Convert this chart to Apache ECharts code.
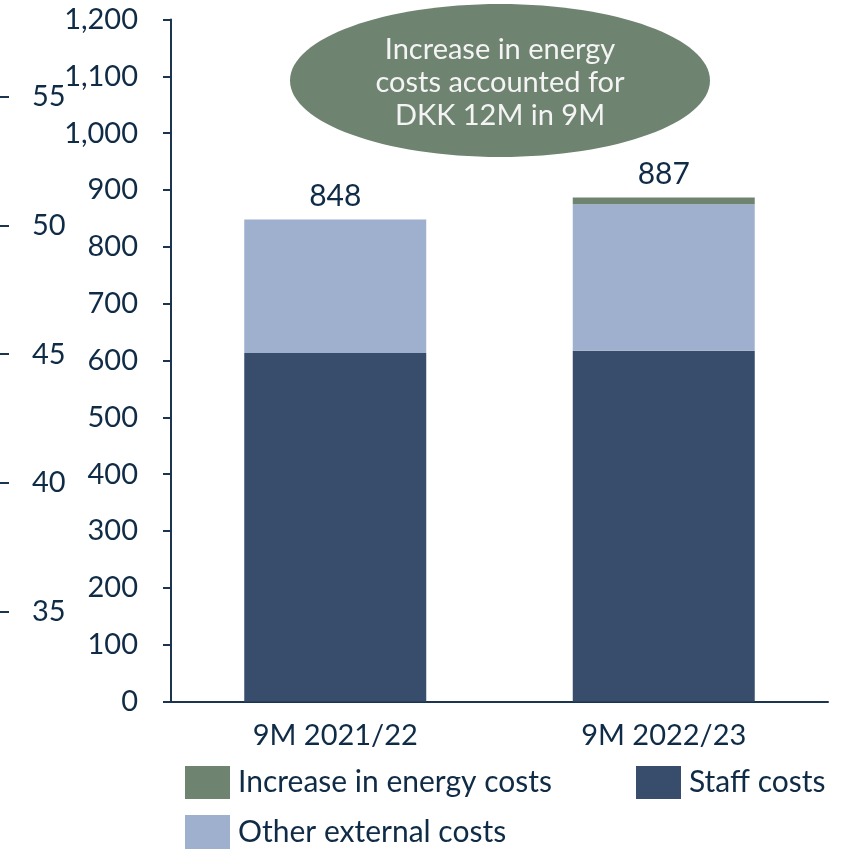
<!DOCTYPE html>
<html>
<head>
<meta charset="utf-8">
<script src="https://cdn.jsdelivr.net/npm/echarts@6/dist/echarts.min.js"></script>
<style>
html,body{margin:0;padding:0;background:#fff;}
#chart{width:846px;height:853px;}
</style>
</head>
<body>
<div id="chart"></div>
<script>
// ---- data ----
var categories = ['9M 2021/22', '9M 2022/23'];
var staffCosts = [613, 617];
var otherExternalCosts = [235, 258];
var energyIncrease = [0, 12];
var totals = [848, 887];
var ghostTicks = [35, 40, 45, 50, 55];
var annotationLines = ['Increase in energy', 'costs accounted for', 'DKK 12M in 9M'];
var legendNames = ['Increase in energy costs', 'Staff costs', 'Other external costs'];

var FONT = 'Lato';
var TEXT = '#0f2b46';
var AXIS = '#1b3550';

var chart = echarts.init(document.getElementById('chart'), null, {renderer: 'canvas'});

function legendAt(name, left, top, h) {
  return {
    data: [name], left: left, top: top, padding: 0,
    itemWidth: 45, itemHeight: h, icon: 'rect', selectedMode: false,
    textStyle: {color: TEXT, fontSize: 30, fontFamily: FONT, padding: [5, 0, 0, 3]}
  };
}

var option = {
  animation: false,
  backgroundColor: '#ffffff',
  textStyle: {fontFamily: FONT},
  grid: [
    {left: 171, right: 18, top: 19.5, bottom: 151.5},
    {left: 0, width: 10, top: 96.7, bottom: 853 - 611.7}
  ],
  xAxis: [
    {
      type: 'category', gridIndex: 0, data: categories,
      axisLine: {show: true, lineStyle: {color: AXIS, width: 2}},
      axisTick: {show: false},
      axisLabel: {color: TEXT, fontSize: 29, fontFamily: FONT, margin: 20}
    },
    {type: 'category', gridIndex: 1, data: [''], show: false}
  ],
  yAxis: [
    {
      type: 'value', gridIndex: 0, min: 0, max: 1200, interval: 100,
      axisLine: {show: true, lineStyle: {color: AXIS, width: 2}},
      axisTick: {show: true, length: 8, lineStyle: {color: AXIS, width: 2}},
      splitLine: {show: false},
      axisLabel: {
        color: TEXT, fontSize: 29, fontFamily: FONT, margin: 33,
        formatter: function (v) { return v.toLocaleString('en-US'); }
      }
    },
    {
      type: 'value', gridIndex: 1, min: ghostTicks[0], max: ghostTicks[ghostTicks.length - 1], interval: 5,
      axisLine: {show: false},
      axisTick: {show: true, inside: true, length: 9, lineStyle: {color: AXIS, width: 2}},
      splitLine: {show: false},
      axisLabel: {inside: true, color: TEXT, fontSize: 29, fontFamily: FONT, margin: 32}
    }
  ],
  legend: [
    legendAt(legendNames[0], 185, 766, 33),
    legendAt(legendNames[1], 636, 766, 33),
    legendAt(legendNames[2], 185, 815, 34)
  ],
  series: [
    {
      name: legendNames[1], type: 'bar', stack: 'total', data: staffCosts,
      barWidth: '55.4%', itemStyle: {color: '#384d6c'}
    },
    {
      name: legendNames[2], type: 'bar', stack: 'total', data: otherExternalCosts,
      itemStyle: {color: '#9eb0cd'}
    },
    {
      name: legendNames[0], type: 'bar', stack: 'total', data: energyIncrease,
      itemStyle: {color: '#6e8370'},
      label: {
        show: true, position: 'top', distance: 8, color: TEXT, fontSize: 30, fontFamily: FONT,
        formatter: function (p) { return String(totals[p.dataIndex]); }
      }
    }
  ],
  graphic: [
    {
      type: 'ellipse', shape: {cx: 500, cy: 80.5, rx: 210, ry: 76.5},
      style: {fill: '#6e8370'}, z: 10
    },
    {
      type: 'text', x: 500, y: 83, z: 11,
      style: {
        text: annotationLines.join('\n'), fill: '#f4f4f4', font: '29px ' + FONT,
        align: 'center', verticalAlign: 'middle', lineHeight: 33
      }
    }
  ]
};
chart.setOption(option);
</script>
</body>
</html>
